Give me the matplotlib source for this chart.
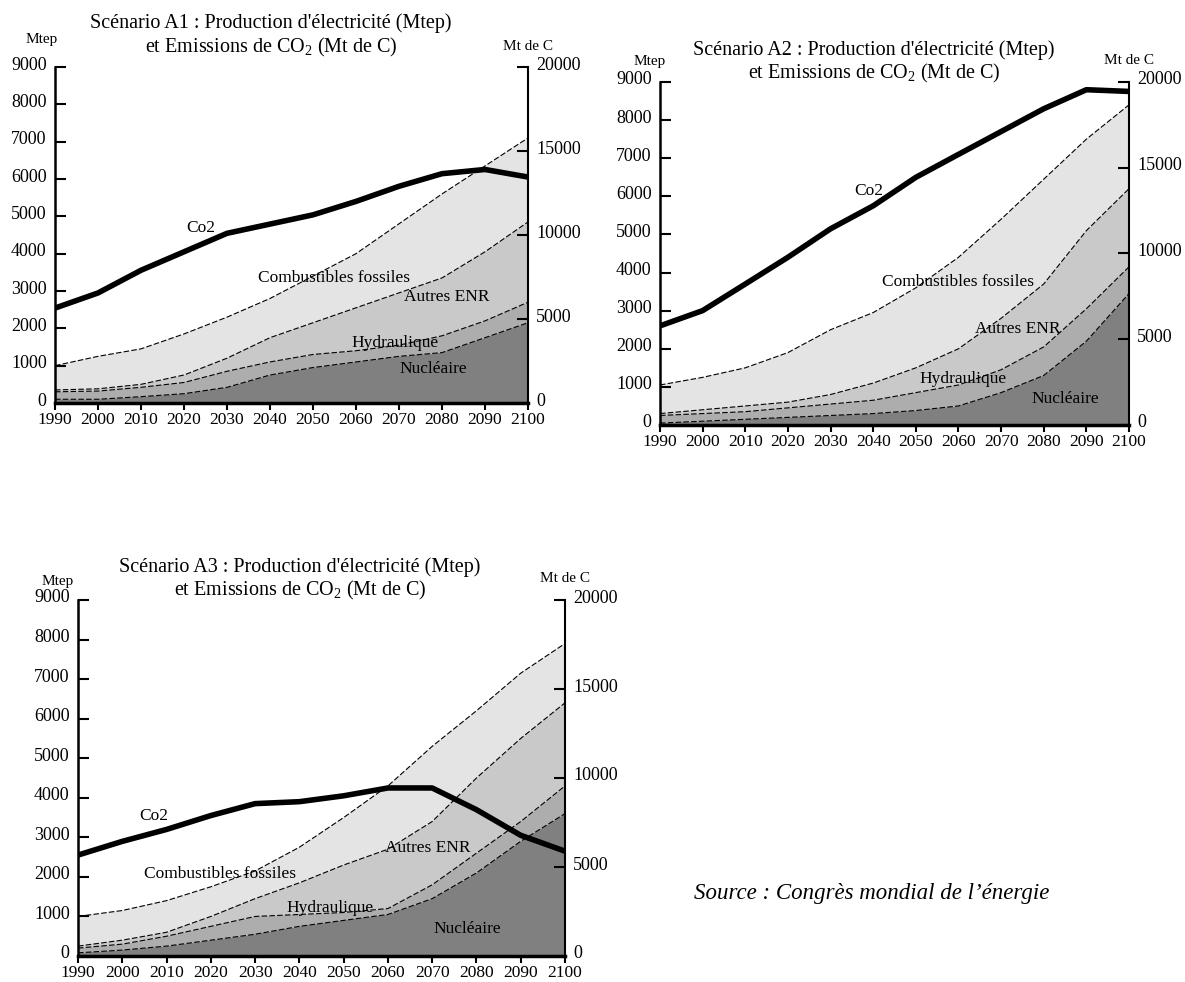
import numpy as np
import matplotlib
matplotlib.use("Agg")
import matplotlib.pyplot as plt
from matplotlib.transforms import ScaledTranslation

plt.rcParams["font.family"] = ["Liberation Serif", "DejaVu Serif"]
plt.rcParams["mathtext.fontset"] = "custom"
plt.rcParams["mathtext.rm"] = "Liberation Serif"

YEARS = np.arange(1990, 2101, 10)

# production d'electricite (Mtep), par source
A1_NUCLEAIRE = [100, 100, 170, 250, 420, 750, 950, 1100, 1250, 1350, 1750, 2150]
A1_HYDRAULIQUE = [200, 220, 250, 300, 430, 350, 350, 300, 300, 450, 450, 550]
A1_AUTRES_ENR = [50, 60, 80, 200, 350, 650, 850, 1150, 1400, 1550, 1850, 2150]
A1_FOSSILES = [650, 870, 950, 1100, 1100, 1050, 1250, 1450, 1850, 2250, 2300, 2250]
A1_CO2 = [5650, 6550, 7900, 9000, 10100, 10650, 11200, 12000, 12900, 13650, 13900, 13450]

A2_NUCLEAIRE = [50, 100, 150, 200, 250, 300, 380, 500, 850, 1300, 2200, 3450]
A2_HYDRAULIQUE = [200, 200, 200, 250, 300, 350, 470, 550, 600, 750, 850, 700]
A2_AUTRES_ENR = [50, 100, 150, 150, 250, 450, 650, 950, 1350, 1650, 2050, 2050]
A2_FOSSILES = [750, 850, 1000, 1300, 1700, 1850, 2100, 2400, 2600, 2750, 2400, 2200]
A2_CO2 = [5780, 6670, 8220, 9780, 11440, 12780, 14440, 15780, 17110, 18440, 19550, 19450]

A3_NUCLEAIRE = [80, 150, 250, 400, 550, 750, 900, 1050, 1450, 2100, 2900, 3600]
A3_HYDRAULIQUE = [120, 150, 250, 350, 450, 300, 200, 150, 350, 500, 500, 700]
A3_AUTRES_ENR = [50, 100, 100, 250, 450, 800, 1200, 1500, 1600, 1900, 2100, 2100]
A3_FOSSILES = [750, 750, 800, 750, 700, 900, 1200, 1600, 1900, 1700, 1650, 1500]
A3_CO2 = [5670, 6440, 7110, 7890, 8560, 8670, 9000, 9440, 9440, 8220, 6780, 5890]

LEFT_TICKS = np.arange(0, 9001, 1000)
RIGHT_TICKS = np.arange(0, 20001, 5000)
FILL_COLORS = ["#808080", "#adadad", "#c9c9c9", "#e4e4e4"]

W, H = 1185, 982


def fig_xy(x, y):
    return x / W, 1 - y / H


def draw_scenario(fig, box, title, series, co2, labels, title_y, title_x, mtep_xy):
    left, top, right, bottom = box
    ax = fig.add_axes([left / W, 1 - bottom / H, (right - left) / W, (bottom - top) / H])
    ax2 = ax.twinx()

    ax.stackplot(YEARS, *series, colors=FILL_COLORS, linewidth=0)
    tops = np.cumsum(np.array(series, dtype=float), axis=0)
    for level in tops:
        ax.plot(YEARS, level, color="black", lw=0.8, ls=(0, (5, 2)))

    ax2.plot(YEARS, co2, color="black", lw=4, solid_capstyle="butt")

    ax.set_xlim(1990, 2100)
    ax.set_ylim(0, 9000)
    ax2.set_ylim(0, 20000)
    ax.set_xticks(YEARS)
    ax.set_yticks(LEFT_TICKS)
    ax2.set_yticks(RIGHT_TICKS)

    for s in ["top", "right"]:
        ax.spines[s].set_visible(False)
    for s in ["top", "left", "bottom"]:
        ax2.spines[s].set_visible(False)
    ax.spines["bottom"].set_linewidth(2.5)
    ax.spines["left"].set_linewidth(1.8)
    ax2.spines["right"].set_linewidth(1.5)

    ax.tick_params(axis="x", direction="out", length=5, width=1.5, labelsize=12.5, pad=1.5)
    ax.tick_params(axis="y", direction="in", length=8, width=1.5, labelsize=13, pad=6)
    ax2.tick_params(axis="y", direction="in", length=8, width=1.5, labelsize=13, pad=6)

    # the y labels sit a little above their ticks in the original
    lift = ScaledTranslation(0, 4 / 100, fig.dpi_scale_trans)
    for lab in ax.get_yticklabels() + ax2.get_yticklabels():
        lab.set_transform(lab.get_transform() + lift)

    for name, (x, y) in labels.items():
        ax.text(x, y, name, ha="center", va="center", fontsize=12.5)

    fig.text(*fig_xy(title_x, title_y[0]), title, ha="center", va="center", fontsize=14.5)
    fig.text(*fig_xy(title_x, title_y[1]), "et Emissions de CO$_2$ (Mt de C)",
             ha="center", va="center", fontsize=14.5)
    fig.text(*fig_xy(*mtep_xy), "Mtep", ha="center", va="center", fontsize=11)
    fig.text(*fig_xy(right, top - 21), "Mt de C", ha="center", va="center", fontsize=11)


def main():
    fig = plt.figure(figsize=(W / 100, H / 100), dpi=100)

    draw_scenario(
        fig, (55, 67, 528, 403),
        "Scénario A1 : Production d'électricité (Mtep)",
        [A1_NUCLEAIRE, A1_HYDRAULIQUE, A1_AUTRES_ENR, A1_FOSSILES], A1_CO2,
        {"Co2": (2024, 4700), "Combustibles fossiles": (2055, 3350),
         "Autres ENR": (2081, 2850), "Hydraulique": (2069, 1600), "Nucléaire": (2078, 900)},
        (23, 47), 271, (42, 40),
    )
    draw_scenario(
        fig, (660, 82, 1129, 425),
        "Scénario A2 : Production d'électricité (Mtep)",
        [A2_NUCLEAIRE, A2_HYDRAULIQUE, A2_AUTRES_ENR, A2_FOSSILES], A2_CO2,
        {"Co2": (2039, 6150), "Combustibles fossiles": (2060, 3740),
         "Autres ENR": (2074, 2510), "Hydraulique": (2061, 1210), "Nucléaire": (2085, 670)},
        (50, 73), 874, (650, 62),
    )
    draw_scenario(
        fig, (78, 600, 565, 956),
        "Scénario A3 : Production d'électricité (Mtep)",
        [A3_NUCLEAIRE, A3_HYDRAULIQUE, A3_AUTRES_ENR, A3_FOSSILES], A3_CO2,
        {"Co2": (2007, 3530), "Combustibles fossiles": (2022, 2080),
         "Autres ENR": (2069, 2730), "Hydraulique": (2047, 1210), "Nucléaire": (2078, 690)},
        (567, 590), 300, (58, 581),
    )

    fig.text(*fig_xy(694, 893), "Source : Congrès mondial de l’énergie",
             ha="left", va="center", fontsize=16.5, style="italic")

    fig.savefig("out.png", dpi=100)
    plt.close(fig)


if __name__ == "__main__":
    main()
